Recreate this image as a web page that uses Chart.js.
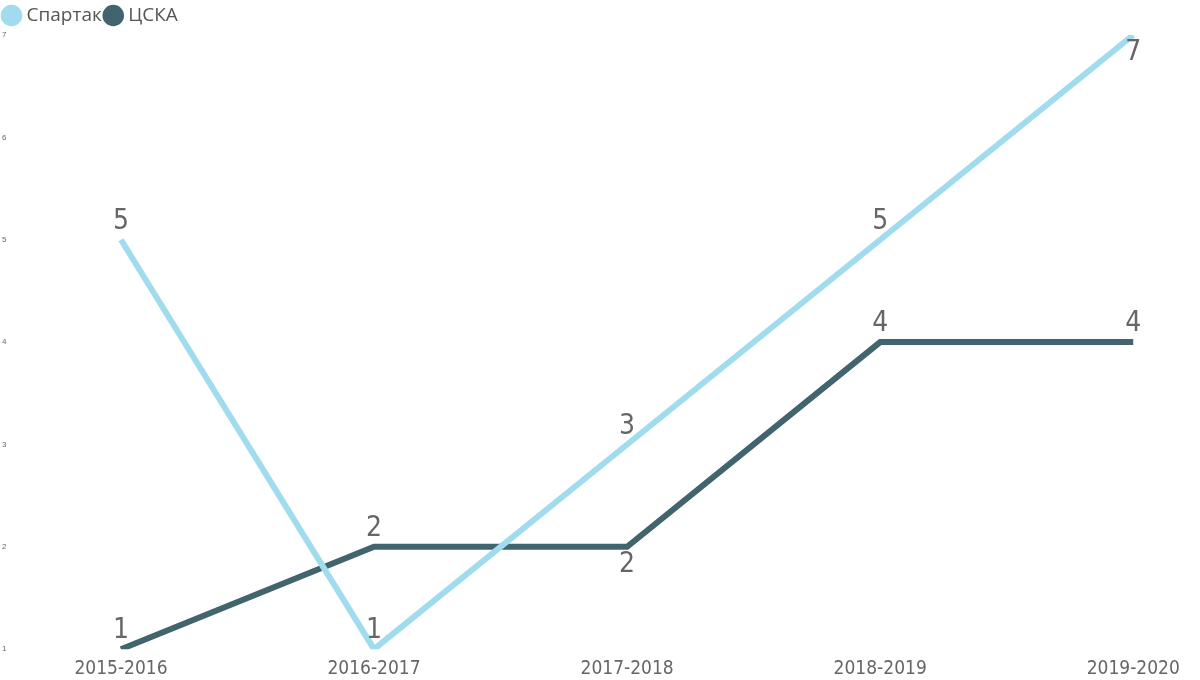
<!DOCTYPE html><html><head><meta charset="utf-8">
<script src="https://cdn.jsdelivr.net/npm/chart.js@4"></script>
<style>html,body{margin:0;background:#fff}#w{width:1200px;height:680px}</style></head><body>
<div id="w"><canvas id="c"></canvas></div>
<script>
const categories=["2015-2016","2016-2017","2017-2018","2018-2019","2019-2020"];
const spartak=[5,1,3,5,7];
const cska=[1,2,2,4,4];
const spartakLabelPos=["above","above","above","above","below"];
const cskaLabelPos=["above","above","below","above","above"];
const yTicks=[1,2,3,4,5,6,7];
const labelPlugin={id:"lbl",afterDatasetsDraw(ch){const c=ch.ctx;c.save();c.font="28px 'DejaVu Sans Condensed', 'Liberation Sans Narrow', sans-serif";c.fillStyle="#666";c.textAlign="center";
ch.data.datasets.forEach((ds,i)=>{const m=ch.getDatasetMeta(i);m.data.forEach((p,j)=>{const pos=ds.labelPos[j];c.textBaseline=pos==="above"?"bottom":"top";c.fillText(String(ds.data[j].y),p.x,pos==="above"?p.y-4:p.y+4);});});c.restore();}};
new Chart(document.getElementById("c"),{type:"line",
data:{datasets:[
{label:"Спартак",data:spartak.map((v,i)=>({x:i,y:v})),borderColor:"#a0dcee",backgroundColor:"#a0dcee",borderWidth:6,pointRadius:0,labelPos:spartakLabelPos},
{label:"ЦСКА",data:cska.map((v,i)=>({x:i,y:v})),borderColor:"#41646f",backgroundColor:"#41646f",borderWidth:6,pointRadius:0,labelPos:cskaLabelPos}]},
options:{responsive:true,maintainAspectRatio:false,animation:false,layout:{padding:{top:0,right:5,bottom:0,left:0}},
plugins:{legend:{position:"top",align:"start",labels:{usePointStyle:true,pointStyle:"circle",boxWidth:11,boxHeight:11,padding:6,color:"#555",font:{size:19,family:"'Segoe UI','Open Sans',sans-serif"}}},tooltip:{enabled:false}},
scales:{x:{type:"linear",min:-0.413,max:4.244,grid:{display:false},border:{display:false},
afterBuildTicks(s){s.ticks=categories.map((_,i)=>({value:i}));},
ticks:{callback:v=>categories[v],color:"#666",font:{size:19,family:"'DejaVu Sans Condensed',sans-serif"},maxRotation:0,padding:0}},
y:{min:1,max:7,grid:{display:false},border:{display:false},afterBuildTicks(s){s.ticks=yTicks.map(v=>({value:v}));},ticks:{color:"#666",font:{size:8},padding:2}}}},
plugins:[labelPlugin]});
</script></body></html>
